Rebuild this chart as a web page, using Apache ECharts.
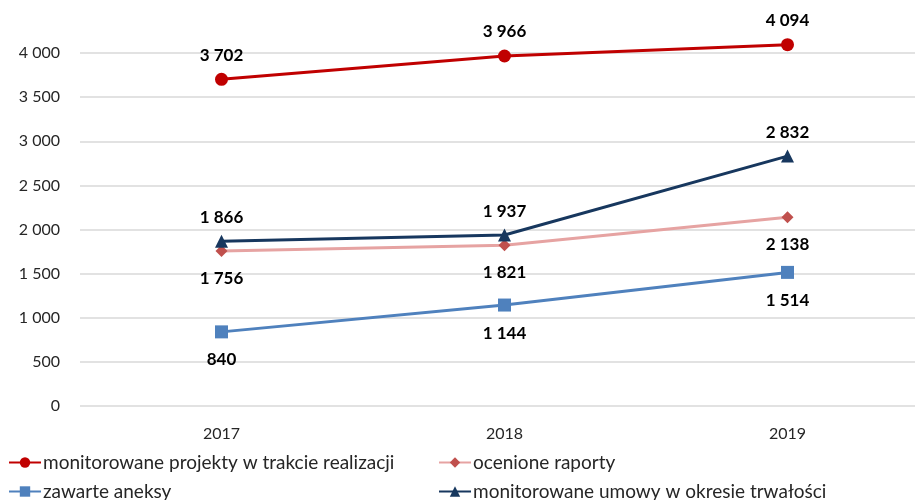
<!DOCTYPE html>
<html>
<head>
<meta charset="utf-8">
<script src="https://cdn.jsdelivr.net/npm/echarts@6/dist/echarts.min.js"></script>
<style>
  html, body { margin: 0; padding: 0; background: #fff; }
  #chart { width: 915px; height: 500px; }
</style>
</head>
<body>
<div id="chart"></div>
<script>
// Liczba projektów / raportów / aneksów w latach 2017-2019

const years = ['2017', '2018', '2019']
const projektyRealizacja = [3702, 3966, 4094]
const ocenioneRaporty = [1756, 1821, 2138]
const zawarteAneksy = [840, 1144, 1514]
const umowyTrwalosc = [1866, 1937, 2832]
const yTicks = [0, 500, 1000, 1500, 2000, 2500, 3000, 3500, 4000]

const names = [
  'monitorowane projekty w trakcie realizacji',
  'ocenione raporty',
  'zawarte aneksy',
  'monitorowane umowy w okresie trwałości',
]

const fontFamily = 'Lato, "Open Sans", sans-serif'

// spacja jako separator tysięcy
function fmt(v) {
  return String(v).replace(/\B(?=(\d{3})+(?!\d))/g, ' ')
}

function series(name, data, color, lineColor, symbol, size, labelPos) {
  return {
    name,
    type: 'line',
    data,
    clip: false,
    symbol,
    symbolSize: size,
    itemStyle: { color },
    lineStyle: { color: lineColor, width: 3 },
    label: {
      show: true,
      position: labelPos,
      distance: labelPos === 'top' ? 9 : 13,
      formatter: (p) => fmt(p.value),
      color: '#000',
      fontWeight: 'bold',
      fontSize: 17,
      fontFamily,
    },
  }
}

// jedna legenda na pozycję, układ 2x2 jak w oryginale
function legendItem(name, left, top) {
  return {
    data: [name],
    left,
    top,
    padding: 0,
    itemWidth: 32,
    itemHeight: 13,
    itemGap: 0,
    textStyle: { fontSize: 19, color: '#262626', fontFamily, padding: [0, 0, 0, -3] },
  }
}

const chart = echarts.init(document.getElementById('chart'))
chart.setOption({
  animation: false,
  backgroundColor: '#fff',
  textStyle: { fontFamily },
  grid: {
    left: 80,
    width: 849,
    top: 53,
    bottom: 94,
    containLabel: false,
    outerBoundsMode: 'none',
  },
  legend: [
    legendItem(names[0], 8, 453),
    legendItem(names[1], 438, 453),
    legendItem(names[2], 8, 482),
    legendItem(names[3], 438, 482),
  ],
  xAxis: {
    type: 'category',
    data: years,
    boundaryGap: true,
    axisLine: { show: false },
    axisTick: { show: false },
    axisLabel: { color: '#262626', fontSize: 16, margin: 20, fontFamily },
  },
  yAxis: {
    type: 'value',
    min: yTicks[0],
    max: yTicks[yTicks.length - 1],
    interval: 500,
    axisLine: { show: false },
    axisTick: { show: false },
    axisLabel: {
      color: '#262626',
      fontSize: 16,
      margin: 20,
      fontFamily,
      formatter: (v) => fmt(v),
    },
    splitLine: { lineStyle: { color: '#d9d9d9', width: 1.5 } },
  },
  series: [
    series(names[0], projektyRealizacja, '#C00000', '#C00000', 'circle', 13, 'top'),
    series(names[1], ocenioneRaporty, '#C0504D', '#E6A3A2', 'diamond', 12, 'bottom'),
    series(names[2], zawarteAneksy, '#4F81BD', '#4F81BD', 'rect', 13, 'bottom'),
    series(names[3], umowyTrwalosc, '#17375E', '#17375E', 'triangle', 13, 'top'),
  ],
})
</script>
</body>
</html>
